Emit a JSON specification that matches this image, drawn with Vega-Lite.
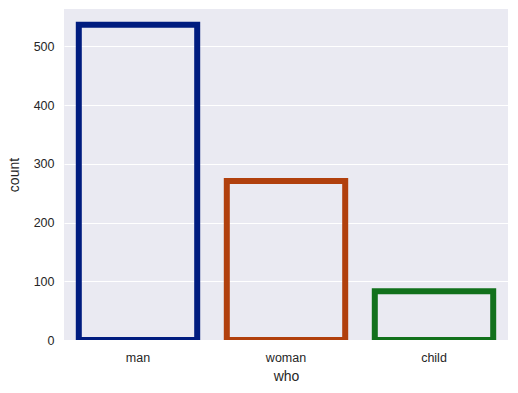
{
  "$schema": "https://vega.github.io/schema/vega-lite/v6.json",
  "autosize": {"type": "none"},
  "width": 444,
  "height": 331,
  "padding": {"left": 64, "top": 9, "right": 10, "bottom": 53},
  "background": "white",
  "config": {
    "view": {"fill": "#eaeaf2", "stroke": null},
    "axis": {
      "labelFont": "Liberation Sans",
      "titleFont": "Liberation Sans",
      "labelFontSize": 12.5,
      "titleFontSize": 14,
      "titleFontWeight": "normal",
      "labelColor": "#262626",
      "titleColor": "#262626",
      "domain": false,
      "ticks": false,
      "gridColor": "white",
      "gridWidth": 1
    }
  },
  "data": {
    "values": [
      {"who": "man", "count": 537},
      {"who": "woman", "count": 271},
      {"who": "child", "count": 83}
    ]
  },
  "mark": {"type": "bar", "fill": null, "fillOpacity": 0, "strokeWidth": 6, "clip": true},
  "encoding": {
    "x": {
      "field": "who",
      "type": "nominal",
      "sort": ["man", "woman", "child"],
      "scale": {"paddingInner": 0.2, "paddingOuter": 0.1},
      "axis": {"labelAngle": 0, "labelPadding": 11, "titlePadding": 6, "grid": false}
    },
    "y": {
      "field": "count",
      "type": "quantitative",
      "scale": {"domain": [0, 563.85], "nice": false},
      "axis": {"values": [0, 100, 200, 300, 400, 500], "labelPadding": 10, "titlePadding": 12, "grid": true}
    },
    "stroke": {
      "field": "who",
      "type": "nominal",
      "scale": {"domain": ["man", "woman", "child"], "range": ["#001c7f", "#b1400d", "#12711c"]},
      "legend": null
    }
  }
}
